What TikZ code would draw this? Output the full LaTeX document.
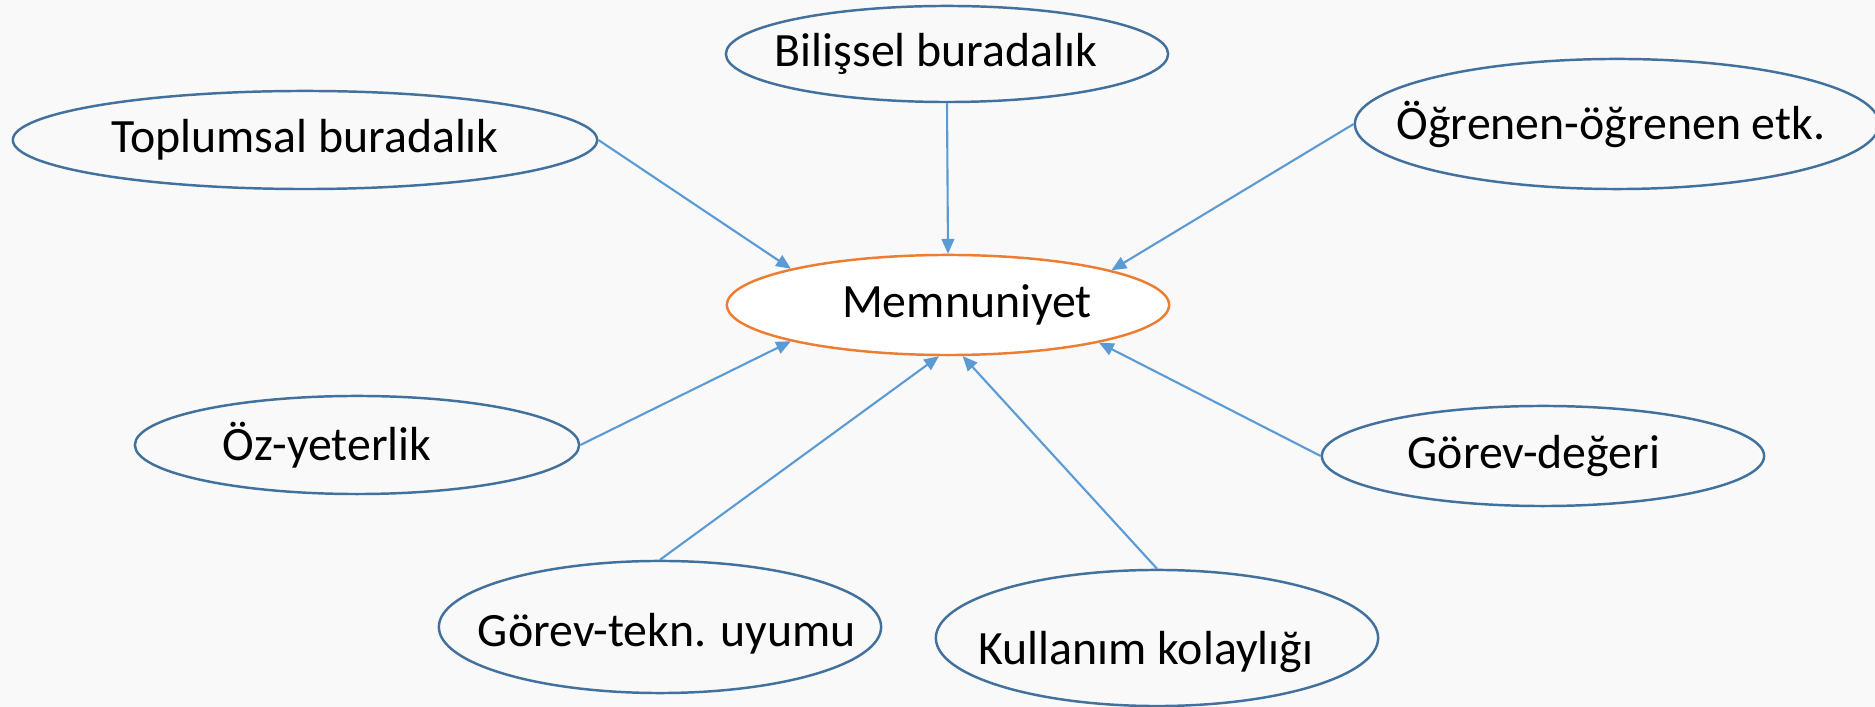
\documentclass[tikz,border=0pt]{standalone}
\usepackage{fontspec}
\setmainfont{Carlito}
\usetikzlibrary{shapes.geometric,arrows.meta}

\definecolor{ovalblue}{RGB}{65,113,156}
\definecolor{linkblue}{RGB}{91,155,213}
\definecolor{coreorange}{RGB}{237,125,49}
\definecolor{bggray}{RGB}{249,249,249}

\begin{document}
\begin{tikzpicture}[x=0.01cm,y=-0.01cm,
    oval/.style={ellipse, draw=ovalblue, line width=0.7pt, inner sep=0pt},
    link/.style={draw=linkblue, line width=0.6pt, -{Triangle[length=4.2pt,width=3.6pt]}},
    every label/.style={font=\fontsize{13.6}{16}\selectfont, text=black, inner sep=0pt}]

    % Background
    \fill[bggray] (0,0) rectangle (1875,707);
    \useasboundingbox (0,0) rectangle (1875,707);

    % Central ellipse
    \node[oval, draw=coreorange, fill=white, minimum width=4.42cm, minimum height=1.0cm,
          label={[xshift=0.19cm]center:Memnuniyet}] (memnun) at (948,305) {};

    % Upper ellipses
    \node[oval, minimum width=5.84cm, minimum height=0.98cm,
          label={center:Toplumsal buradalık}] (toplum) at (305,140) {};
    \node[oval, minimum width=4.42cm, minimum height=0.96cm,
          label={[xshift=-0.11cm]center:Bilişsel buradalık}] (bilis) at (947,54) {};
    \node[oval, minimum width=5.24cm, minimum height=1.30cm,
          label={[xshift=-0.06cm]center:Öğrenen-öğrenen etk.}] (ogren) at (1617,124) {};

    % Lower ellipses
    \node[oval, minimum width=4.44cm, minimum height=0.98cm,
          label={[xshift=-0.30cm]center:Öz-yeterlik}] (ozyet) at (357,445) {};
    \node[oval, minimum width=4.42cm, minimum height=1.0cm,
          label={[xshift=-0.09cm]center:Görev-değeri}] (gdeger) at (1543,456) {};
    \node[oval, minimum width=4.42cm, minimum height=1.32cm,
          label={[xshift=0.07cm,yshift=-0.07cm]center:Görev-tekn. uyumu}] (gtekn) at (660,627) {};
    \node[oval, minimum width=4.42cm, minimum height=1.36cm,
          label={[xshift=-0.11cm,yshift=-0.14cm]center:Kullanım kolaylığı}] (kolay) at (1157,638) {};

    % Arrows into the centre
    \draw[link] (toplum.east) -- (memnun.167.5);
    \draw[link] (bilis.south) -- (memnun.north);
    \draw[link] (ogren.west) -- (memnun.12.5);
    \draw[link] (ozyet.east) -- (memnun.193);
    \draw[link] (gdeger.west) -- (memnun.346.5);
    \draw[link] (gtekn.north) -- (memnun.260);
    \draw[link] (kolay.north) -- (memnun.286);

\end{tikzpicture}
\end{document}
